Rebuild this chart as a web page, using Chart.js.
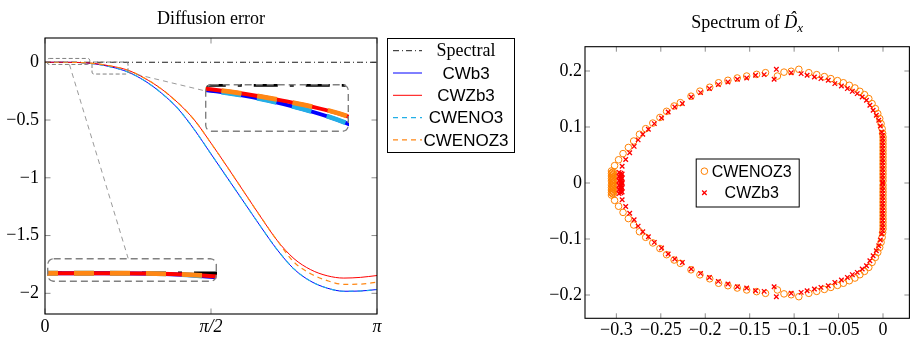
<!DOCTYPE html>
<html>
<head>
<meta charset="utf-8">
<script src="https://cdn.jsdelivr.net/npm/chart.js@4.4.1/dist/chart.umd.min.js"></script>
<style>
  html, body { margin: 0; padding: 0; background: #fff; }
  body { position: relative; width: 914px; height: 338px; overflow: hidden; }
  canvas { display: block; }
  #diffusion { position: absolute; left: 0; top: 0; }
  #spectrum { position: absolute; left: 530px; top: 0; }
  .spy { position: absolute; overflow: hidden; border-radius: 6px; }
</style>
</head>
<body>
<canvas id="diffusion" width="530" height="338"></canvas>
<canvas id="spectrum" width="384" height="338"></canvas>
<script>
// ---------- diffusion error, sampled on k / pi ----------
const kOverPi = [0, 0.05, 0.1, 0.15, 0.2, 0.25, 0.3, 0.35, 0.4, 0.45, 0.5,
                 0.55, 0.6, 0.65, 0.7, 0.75, 0.8, 0.85, 0.9, 0.95, 1];
const spectral = [0, 0, 0, 0, 0, 0, 0, 0, 0, 0, 0, 0, 0, 0, 0, 0, 0, 0, 0, 0, 0];
const cwb3    = [0, 0, -0.002, -0.014, -0.041, -0.085, -0.16, -0.265, -0.40, -0.584, -0.794,
                 -1.004, -1.214, -1.424, -1.625, -1.79, -1.895, -1.955, -1.982, -1.98, -1.967];
const cwzb3   = [0, 0, -0.0015, -0.011, -0.034, -0.069, -0.138, -0.23, -0.35, -0.50, -0.70,
                 -0.91, -1.125, -1.34, -1.545, -1.70, -1.795, -1.848, -1.868, -1.862, -1.846];
const cweno3  = [0, 0, -0.002, -0.014, -0.041, -0.085, -0.16, -0.265, -0.40, -0.584, -0.794,
                 -1.004, -1.214, -1.424, -1.625, -1.79, -1.895, -1.955, -1.982, -1.98, -1.967];
const cwenoz3 = [0, 0, -0.0015, -0.011, -0.034, -0.069, -0.138, -0.23, -0.35, -0.50, -0.70,
                 -0.91, -1.125, -1.34, -1.545, -1.73, -1.83, -1.89, -1.922, -1.92, -1.904];
const diffXTicks = [0, 0.5, 1];            // in units of pi
const diffXLabels = ['0', 'π/2', 'π'];
const diffYTicks = [0, -0.5, -1, -1.5, -2];

// ---------- eigenvalues of the discrete derivative ----------
// CWENOZ3: tight group near the real axis at Re = -0.30
const cwenoz3ClusterRe = [
  -0.3055, -0.3035, -0.3045, -0.3055, -0.3035, -0.3045, -0.3055, -0.3035, -0.3045, -0.3055,
  -0.3035, -0.3045, -0.3055, -0.3035, -0.3045,
  -0.3055, -0.3035, -0.3045, -0.3055, -0.3035, -0.3045, -0.3055, -0.3035, -0.3045, -0.3055,
  -0.3035, -0.3045, -0.3055, -0.3035, -0.3045];
const cwenoz3ClusterIm = [
  0.0215, 0.0200, 0.0185, 0.0170, 0.0155, 0.0140, 0.0125, 0.0110, 0.0095, 0.0080,
  0.0065, 0.0050, 0.0035, 0.0020, 0.0005,
  -0.0215, -0.0200, -0.0185, -0.0170, -0.0155, -0.0140, -0.0125, -0.0110, -0.0095, -0.0080,
  -0.0065, -0.0050, -0.0035, -0.0020, -0.0005];
// CWENOZ3, upper half plane
const cwenoz3ReUp = [
  -0.3020, -0.2975, -0.2925, -0.2865, -0.2805, -0.2740, -0.2670, -0.2590, -0.2510, -0.2435,
  -0.2350, -0.2280, -0.2160, -0.2060, -0.1950, -0.1850, -0.1745, -0.1640, -0.1534, -0.1422,
  -0.1322, -0.1188, -0.1114, -0.1033, -0.0947, -0.0835, -0.0746, -0.0660, -0.0587, -0.0512,
  -0.0446, -0.0379, -0.0316, -0.0260, -0.0208, -0.0160, -0.0123, -0.0086, -0.0059, -0.0037,
  -0.0022, -0.0010, -0.0004,
  0, 0, 0, 0, 0, 0, 0, 0, 0, 0, 0, 0, 0, 0];
const cwenoz3ImUp = [
  0.0310, 0.0415, 0.0525, 0.0635, 0.0750, 0.0870, 0.0970, 0.1070, 0.1170, 0.1280,
  0.1375, 0.1435, 0.1550, 0.1640, 0.1710, 0.1790, 0.1834, 0.1875, 0.1910, 0.1940,
  0.1970, 0.1910, 0.1980, 0.1995, 0.2030, 0.1970, 0.1935, 0.1900, 0.1864, 0.1828,
  0.1790, 0.1745, 0.1697, 0.1637, 0.1578, 0.1507, 0.1418, 0.1328, 0.1239, 0.1150,
  0.1060, 0.0970, 0.0885,
  0.082, 0.076, 0.070, 0.064, 0.058, 0.052, 0.046, 0.040, 0.034, 0.028, 0.022, 0.016, 0.010, 0.004];
// CWENOZ3, lower half plane
const cwenoz3ReLo = [
  -0.3020, -0.2975, -0.2925, -0.2865, -0.2805, -0.2740, -0.2670, -0.2590, -0.2510, -0.2435,
  -0.2350, -0.2280, -0.2160, -0.2060, -0.1950, -0.1850, -0.1745, -0.1640, -0.1534, -0.1422,
  -0.1322, -0.1188, -0.1114, -0.1033, -0.0947, -0.0835, -0.0746, -0.0660, -0.0587, -0.0512,
  -0.0446, -0.0379, -0.0316, -0.0260, -0.0208, -0.0160, -0.0123, -0.0086, -0.0059, -0.0037,
  -0.0022, -0.0010, -0.0004,
  0, 0, 0, 0, 0, 0, 0, 0, 0, 0, 0, 0, 0, 0];
const cwenoz3ImLo = [
  -0.0310, -0.0415, -0.0525, -0.0635, -0.0750, -0.0870, -0.0970, -0.1070, -0.1170, -0.1280,
  -0.1375, -0.1435, -0.1550, -0.1640, -0.1710, -0.1790, -0.1834, -0.1875, -0.1910, -0.1940,
  -0.1970, -0.1910, -0.1980, -0.1995, -0.2030, -0.1970, -0.1935, -0.1900, -0.1864, -0.1828,
  -0.1790, -0.1745, -0.1697, -0.1637, -0.1578, -0.1507, -0.1418, -0.1328, -0.1239, -0.1150,
  -0.1060, -0.0970, -0.0885,
  -0.082, -0.076, -0.070, -0.064, -0.058, -0.052, -0.046, -0.040, -0.034, -0.028, -0.022, -0.016, -0.010, -0.004];
// CWZb3: tight group near the real axis at Re = -0.295
const cwzb3ClusterRe = [
  -0.2970, -0.2950, -0.2935, -0.2960, -0.2945, -0.2970, -0.2950, -0.2935, -0.2960, -0.2945,
  -0.2970, -0.2950, -0.2935,
  -0.2970, -0.2950, -0.2935, -0.2960, -0.2945, -0.2970, -0.2950, -0.2935, -0.2960, -0.2945,
  -0.2970, -0.2950, -0.2935];
const cwzb3ClusterIm = [
  0.0190, 0.0175, 0.0160, 0.0145, 0.0130, 0.0115, 0.0100, 0.0085, 0.0070, 0.0055,
  0.0040, 0.0025, 0.0010,
  -0.0190, -0.0175, -0.0160, -0.0145, -0.0130, -0.0115, -0.0100, -0.0085, -0.0070, -0.0055,
  -0.0040, -0.0025, -0.0010];
// CWZb3, upper half plane
const cwzb3ReUp = [
  -0.2935, -0.2895, -0.2850, -0.2800, -0.2755, -0.2703, -0.2640, -0.2573, -0.2492, -0.2417,
  -0.2343, -0.2258, -0.2158, -0.2053, -0.1953, -0.1853, -0.1745, -0.1638, -0.1534, -0.1434,
  -0.1337, -0.1225, -0.1200, -0.1033, -0.0921, -0.0854, -0.0772, -0.0698, -0.0616, -0.0542,
  -0.0468, -0.0401, -0.0345, -0.0290, -0.0234, -0.0186, -0.0148, -0.0111, -0.0075, -0.0048,
  -0.0030, -0.0015,
  -0.0004, -0.0004, -0.0004, -0.0004, -0.0004, -0.0004, -0.0004, -0.0004,
  -0.0004, -0.0004, -0.0004, -0.0004, -0.0004, -0.0004, -0.0004];
const cwzb3ImUp = [
  0.0300, 0.0420, 0.0540, 0.0655, 0.0770, 0.0870, 0.0960, 0.1060, 0.1160, 0.1268,
  0.1357, 0.1418, 0.1536, 0.1614, 0.1686, 0.1757, 0.1804, 0.1852, 0.1875, 0.1923,
  0.1935, 0.1852, 0.2030, 0.1970, 0.1953, 0.1923, 0.1893, 0.1864, 0.1834, 0.1775,
  0.1732, 0.1686, 0.1637, 0.1596, 0.1536, 0.1477, 0.1388, 0.1298, 0.1209, 0.1120,
  0.1018, 0.0910,
  0.085, 0.079, 0.073, 0.067, 0.061, 0.055, 0.049, 0.043,
  0.037, 0.031, 0.025, 0.019, 0.013, 0.007, 0.001];
// CWZb3, lower half plane
const cwzb3ReLo = [
  -0.2935, -0.2895, -0.2850, -0.2800, -0.2755, -0.2703, -0.2640, -0.2573, -0.2492, -0.2417,
  -0.2343, -0.2258, -0.2158, -0.2053, -0.1953, -0.1853, -0.1745, -0.1638, -0.1534, -0.1434,
  -0.1337, -0.1225, -0.1200, -0.1033, -0.0921, -0.0854, -0.0772, -0.0698, -0.0616, -0.0542,
  -0.0468, -0.0401, -0.0345, -0.0290, -0.0234, -0.0186, -0.0148, -0.0111, -0.0075, -0.0048,
  -0.0030, -0.0015,
  -0.0004, -0.0004, -0.0004, -0.0004, -0.0004, -0.0004, -0.0004, -0.0004,
  -0.0004, -0.0004, -0.0004, -0.0004, -0.0004, -0.0004, -0.0004];
const cwzb3ImLo = [
  -0.0300, -0.0420, -0.0540, -0.0655, -0.0770, -0.0870, -0.0960, -0.1060, -0.1160, -0.1268,
  -0.1357, -0.1418, -0.1536, -0.1614, -0.1686, -0.1757, -0.1804, -0.1852, -0.1875, -0.1923,
  -0.1935, -0.1852, -0.2030, -0.1970, -0.1953, -0.1923, -0.1893, -0.1864, -0.1834, -0.1775,
  -0.1732, -0.1686, -0.1637, -0.1596, -0.1536, -0.1477, -0.1388, -0.1298, -0.1209, -0.1120,
  -0.1018, -0.0910,
  -0.085, -0.079, -0.073, -0.067, -0.061, -0.055, -0.049, -0.043,
  -0.037, -0.031, -0.025, -0.019, -0.013, -0.007, -0.001];
const specXTicks = [-0.3, -0.25, -0.2, -0.15, -0.1, -0.05, 0];
const specYTicks = [-0.2, -0.1, 0, 0.1, 0.2];

// ---------- shared setup ----------
const PI = Math.PI;
const SERIF = '"Liberation Serif", "DejaVu Serif", serif';
const SANS = '"Liberation Sans", "DejaVu Sans", sans-serif';
Chart.defaults.color = '#000';
Chart.defaults.font.family = SERIF;
Chart.defaults.font.size = 18;

const fmt = v => Math.abs(v) < 1e-9 ? '0'
  : (v < 0 ? '\u2212' : '') + String(+Math.abs(v).toFixed(2));

// magnified views: source centre (data), source size (px), placement (data), zoom factor
const spies = [
  { cx: 0.0708 * PI, cy: 0.007,  w: 42.5, h: 6,  atX: 0.2614 * PI, atY: -1.801, mag: 4 },
  { cx: 0.1958 * PI, cy: -0.050, w: 36,   h: 12, atX: 0.7003 * PI, atY: -0.398, mag: 4 }
];

// axis frame with inward tick marks on all four sides
const frame = {
  id: 'frame',
  afterDatasetsDraw(chart, _a, o) {
    const { ctx, chartArea: a } = chart;
    const sx = chart.scales.x, sy = chart.scales.y;
    ctx.save();
    ctx.setLineDash([]);
    ctx.lineWidth = 1;
    ctx.strokeStyle = 'rgba(0,0,0,0.45)';
    ctx.beginPath();
    sx.ticks.forEach(t => {
      const p = sx.getPixelForValue(t.value);
      ctx.moveTo(p, a.top); ctx.lineTo(p, a.top + o.len);
      ctx.moveTo(p, a.bottom); ctx.lineTo(p, a.bottom - o.len);
    });
    sy.ticks.forEach(t => {
      const p = sy.getPixelForValue(t.value);
      ctx.moveTo(a.left, p); ctx.lineTo(a.left + o.len, p);
      ctx.moveTo(a.right, p); ctx.lineTo(a.right - o.len, p);
    });
    ctx.stroke();
    ctx.strokeStyle = '#000';
    ctx.lineWidth = 1.1;
    ctx.strokeRect(a.left, a.top, a.right - a.left, a.bottom - a.top);
    ctx.restore();
  }
};

// title made of text runs (font, vertical shift, optional hat)
const heading = {
  id: 'heading',
  afterDraw(chart, _a, o) {
    const { ctx, chartArea: a } = chart;
    ctx.save();
    ctx.fillStyle = '#000';
    ctx.textBaseline = 'alphabetic';
    ctx.textAlign = 'left';
    const widths = o.runs.map(r => { ctx.font = r.font; return ctx.measureText(r.text).width; });
    let x = (a.left + a.right) / 2 - widths.reduce((s, w) => s + w, 0) / 2;
    o.runs.forEach((r, i) => {
      ctx.font = r.font;
      ctx.fillText(r.text, x, o.baseline + (r.dy || 0));
      if (r.hat) {
        ctx.textAlign = 'center';
        ctx.fillText('\u02C6', x + widths[i] / 2 + 2, o.baseline - 4);
        ctx.textAlign = 'left';
      }
      x += widths[i];
    });
    ctx.restore();
  }
};

// legend box with line samples, placed right of the plot
const lineLegend = {
  id: 'lineLegend',
  afterDraw(chart, _a, o) {
    const { ctx, chartArea: a } = chart;
    const x0 = a.right + o.gap, y0 = a.top;
    ctx.save();
    ctx.fillStyle = '#fff';
    ctx.fillRect(x0, y0, o.width, o.height);
    ctx.setLineDash([]);
    ctx.strokeStyle = '#000';
    ctx.lineWidth = 1;
    ctx.strokeRect(x0 + 0.5, y0 + 0.5, o.width, o.height);
    chart.data.datasets.forEach((ds, i) => {
      const y = y0 + o.first + i * o.row;
      ctx.strokeStyle = ds.borderColor;
      ctx.lineWidth = ds.borderWidth;
      ctx.setLineDash(ds.borderDash || []);
      ctx.beginPath();
      ctx.moveTo(x0 + o.from, y); ctx.lineTo(x0 + o.to, y);
      ctx.stroke();
      ctx.setLineDash([]);
      ctx.fillStyle = '#000';
      ctx.font = ds.legendFont;
      ctx.textAlign = 'center';
      ctx.textBaseline = 'middle';
      ctx.fillText(ds.label, x0 + o.textX, y + 1);
    });
    ctx.restore();
  }
};

// legend box with marker samples, centred in the plot
function drawMarker(ctx, style, x, y, r) {
  ctx.beginPath();
  if (style === 'circle') {
    ctx.arc(x, y, r, 0, 2 * PI);
  } else {
    const d = r * Math.SQRT1_2;
    ctx.moveTo(x - d, y - d); ctx.lineTo(x + d, y + d);
    ctx.moveTo(x - d, y + d); ctx.lineTo(x + d, y - d);
  }
  ctx.stroke();
}
const markLegend = {
  id: 'markLegend',
  afterDraw(chart, _a, o) {
    const { ctx, chartArea: a } = chart;
    const x0 = (a.left + a.right) / 2 - o.width / 2;
    const y0 = (a.top + a.bottom) / 2 - o.height / 2;
    ctx.save();
    ctx.fillStyle = '#fff';
    ctx.fillRect(x0, y0, o.width, o.height);
    ctx.strokeStyle = '#000';
    ctx.lineWidth = 1;
    ctx.strokeRect(x0 + 0.5, y0 + 0.5, o.width, o.height);
    chart.data.datasets.forEach((ds, i) => {
      const y = y0 + o.first + i * o.row;
      ctx.strokeStyle = ds.borderColor;
      ctx.lineWidth = ds.pointBorderWidth;
      drawMarker(ctx, ds.pointStyle, x0 + o.markX, y, ds.pointRadius);
      ctx.fillStyle = '#000';
      ctx.font = `16px ${SANS}`;
      ctx.textAlign = 'center';
      ctx.textBaseline = 'middle';
      ctx.fillText(ds.label, x0 + o.textX, y + 1);
    });
    ctx.restore();
  }
};

// geometry of the magnified views in pixels of the host chart
function spyGeometry(chart) {
  const sx = chart.scales.x, sy = chart.scales.y;
  return spies.map(s => ({
    s,
    src: { cx: sx.getPixelForValue(s.cx), cy: sy.getPixelForValue(s.cy), w: s.w, h: s.h },
    dst: { cx: sx.getPixelForValue(s.atX), cy: sy.getPixelForValue(s.atY), w: s.w * s.mag, h: s.h * s.mag }
  }));
}
function roundRect(ctx, x, y, w, h, r) {
  ctx.beginPath();
  ctx.moveTo(x + r, y);
  ctx.arcTo(x + w, y, x + w, y + h, r);
  ctx.arcTo(x + w, y + h, x, y + h, r);
  ctx.arcTo(x, y + h, x, y, r);
  ctx.arcTo(x, y, x + w, y, r);
  ctx.closePath();
}
function edgePoint(c, d, sign) {
  const t = Math.min(c.w / 2 / Math.abs(d.x || 1e-9), c.h / 2 / Math.abs(d.y || 1e-9));
  return { x: c.cx + sign * d.x * t, y: c.cy + sign * d.y * t };
}
// source frames and connectors drawn on the host chart
const spyMarks = {
  id: 'spyMarks',
  afterDraw(chart) {
    const ctx = chart.ctx;
    ctx.save();
    ctx.strokeStyle = 'rgb(128,128,128)';
    spyGeometry(chart).forEach(({ src, dst }) => {
      ctx.lineWidth = 1;
      ctx.setLineDash([4, 2.5]);
      roundRect(ctx, src.cx - src.w / 2, src.cy - src.h / 2, src.w, src.h, 2);
      ctx.stroke();
      const d = { x: dst.cx - src.cx, y: dst.cy - src.cy };
      const p = edgePoint(src, d, 1), q = edgePoint(dst, d, -1);
      ctx.lineWidth = 0.8;
      ctx.setLineDash([5, 4]);
      ctx.beginPath();
      ctx.moveTo(p.x, p.y); ctx.lineTo(q.x, q.y);
      ctx.stroke();
    });
    ctx.restore();
  }
};
// dashed rounded frame of a magnified view
const spyBorder = {
  id: 'spyBorder',
  afterDraw(chart) {
    const { ctx, width, height } = chart;
    ctx.save();
    ctx.strokeStyle = 'rgb(128,128,128)';
    ctx.lineWidth = 1.4;
    ctx.setLineDash([7, 4]);
    roundRect(ctx, 0.7, 0.7, width - 1.4, height - 1.4, 6);
    ctx.stroke();
    ctx.restore();
  }
};

function diffusionDatasets(m) {
  const pts = vals => kOverPi.map((k, i) => ({ x: k * PI, y: vals[i] }));
  return [
    { label: 'Spectral', data: pts(spectral), borderColor: '#000', borderWidth: 0.9 * m,
      borderDash: [6, 3, 1, 3].map(d => d * m), order: 4, legendFont: `18px ${SERIF}` },
    { label: 'CWb3', data: pts(cwb3), borderColor: '#0000ff', borderWidth: 1 * m,
      order: 3, legendFont: `17px ${SANS}` },
    { label: 'CWZb3', data: pts(cwzb3), borderColor: '#ff0000', borderWidth: 1 * m,
      order: 2, legendFont: `17px ${SANS}` },
    { label: 'CWENO3', data: pts(cweno3), borderColor: 'rgb(35,175,230)', borderWidth: 1.2 * m,
      borderDash: [5, 4].map(d => d * m), order: 1, legendFont: `17px ${SANS}` },
    { label: 'CWENOZ3', data: pts(cwenoz3), borderColor: 'rgb(255,135,20)', borderWidth: 1.2 * m,
      borderDash: [5, 4].map(d => d * m), order: 0, legendFont: `17px ${SANS}` }
  ];
}
const lineElements = {
  point: { radius: 0, hoverRadius: 0 },
  line: { cubicInterpolationMode: 'monotone', capBezierPoints: false, fill: false }
};

// ---------- left: diffusion error ----------
const diffChart = new Chart(document.getElementById('diffusion'), {
  type: 'line',
  data: { datasets: diffusionDatasets(1) },
  options: {
    responsive: false, animation: false, devicePixelRatio: 1, events: [],
    layout: { padding: { top: 38, right: 153, bottom: 0, left: 0 } },
    elements: lineElements,
    scales: {
      x: {
        type: 'linear', min: 0, max: PI,
        grid: { display: false, drawTicks: false }, border: { display: false },
        afterBuildTicks: s => { s.ticks = diffXTicks.map(v => ({ value: v * PI })); },
        afterFit: s => { s.height = 24; },
        ticks: {
          autoSkip: false, maxRotation: 0, padding: 2,
          font: c => ({ family: SERIF, size: 18, style: c.index ? 'italic' : 'normal' }),
          callback: (v, i) => diffXLabels[i]
        }
      },
      y: {
        min: -2.179, max: 0.21,
        grid: { display: false, drawTicks: false }, border: { display: false },
        afterBuildTicks: s => { s.ticks = diffYTicks.map(v => ({ value: v })); },
        afterFit: s => { s.width = 45; },
        ticks: { padding: 6, font: { family: SERIF, size: 18 }, callback: v => fmt(v) }
      }
    },
    plugins: {
      legend: { display: false }, tooltip: { enabled: false },
      frame: { len: 5.5 },
      heading: { baseline: 23.5, runs: [{ text: 'Diffusion error', font: `18px ${SERIF}` }] },
      lineLegend: { gap: 10, width: 127, height: 114, first: 12.7, row: 22.3, from: 6, to: 35, textX: 79 }
    }
  },
  plugins: [spyMarks, frame, heading, lineLegend]
});

// magnified views of the two regions near k = 0
spyGeometry(diffChart).forEach(({ s, src, dst }) => {
  const sx = diffChart.scales.x, sy = diffChart.scales.y;
  const wrap = document.createElement('div');
  wrap.className = 'spy';
  wrap.style.left = (dst.cx - dst.w / 2) + 'px';
  wrap.style.top = (dst.cy - dst.h / 2) + 'px';
  wrap.style.width = dst.w + 'px';
  wrap.style.height = dst.h + 'px';
  const cv = document.createElement('canvas');
  cv.width = dst.w; cv.height = dst.h;
  wrap.appendChild(cv);
  document.body.appendChild(wrap);
  new Chart(cv, {
    type: 'line',
    data: { datasets: diffusionDatasets(s.mag) },
    options: {
      responsive: false, animation: false, devicePixelRatio: 1, events: [],
      layout: { padding: 0 },
      elements: lineElements,
      scales: {
        x: { type: 'linear', display: false,
             min: sx.getValueForPixel(src.cx - src.w / 2), max: sx.getValueForPixel(src.cx + src.w / 2) },
        y: { type: 'linear', display: false,
             min: sy.getValueForPixel(src.cy + src.h / 2), max: sy.getValueForPixel(src.cy - src.h / 2) }
      },
      plugins: { legend: { display: false }, tooltip: { enabled: false } }
    },
    plugins: [spyBorder]
  });
});

// ---------- right: spectrum ----------
const toPts = (re, im) => re.map((r, i) => ({ x: r, y: im[i] }));
new Chart(document.getElementById('spectrum'), {
  type: 'scatter',
  data: {
    datasets: [
      { label: 'CWENOZ3',
        data: toPts(cwenoz3ClusterRe, cwenoz3ClusterIm)
          .concat(toPts(cwenoz3ReUp, cwenoz3ImUp), toPts(cwenoz3ReLo, cwenoz3ImLo)),
        pointStyle: 'circle', pointRadius: 3.3, pointBorderWidth: 1, borderWidth: 1,
        borderColor: 'rgb(255,128,0)', backgroundColor: 'rgba(0,0,0,0)', order: 1 },
      { label: 'CWZb3',
        data: toPts(cwzb3ClusterRe, cwzb3ClusterIm)
          .concat(toPts(cwzb3ReUp, cwzb3ImUp), toPts(cwzb3ReLo, cwzb3ImLo)),
        pointStyle: 'crossRot', pointRadius: 3.2, pointBorderWidth: 1.3, borderWidth: 1.3,
        borderColor: '#ff0000', backgroundColor: 'rgba(0,0,0,0)', order: 0 }
    ]
  },
  options: {
    responsive: false, animation: false, devicePixelRatio: 1, events: [],
    layout: { padding: { top: 46.7, right: 1.3, bottom: 0, left: 0 } },
    elements: { point: { hoverRadius: 3.3 } },
    scales: {
      x: {
        type: 'linear', min: -0.3353, max: 0.0297,
        grid: { display: false, drawTicks: false }, border: { display: false },
        afterBuildTicks: s => { s.ticks = specXTicks.map(v => ({ value: v })); },
        afterFit: s => { s.height = 19.7; },
        ticks: { autoSkip: false, maxRotation: 0, padding: 1, font: { family: SERIF, size: 18 }, callback: v => fmt(v) }
      },
      y: {
        type: 'linear', min: -0.2416, max: 0.2434,
        grid: { display: false, drawTicks: false }, border: { display: false },
        afterBuildTicks: s => { s.ticks = specYTicks.map(v => ({ value: v })); },
        afterFit: s => { s.width = 55; },
        ticks: { padding: 3, font: { family: SERIF, size: 18 }, callback: v => fmt(v) }
      }
    },
    plugins: {
      legend: { display: false }, tooltip: { enabled: false },
      frame: { len: 5 },
      heading: { baseline: 28.3, runs: [
        { text: 'Spectrum of ', font: `18px ${SERIF}` },
        { text: 'D', font: `italic 18px ${SERIF}`, hat: true },
        { text: 'x', font: `italic 13px ${SERIF}`, dy: 4 }
      ] },
      markLegend: { width: 103, height: 48, first: 12.7, row: 21.5, markX: 8.7, textX: 56 }
    }
  },
  plugins: [frame, heading, markLegend]
});
</script>
</body>
</html>
